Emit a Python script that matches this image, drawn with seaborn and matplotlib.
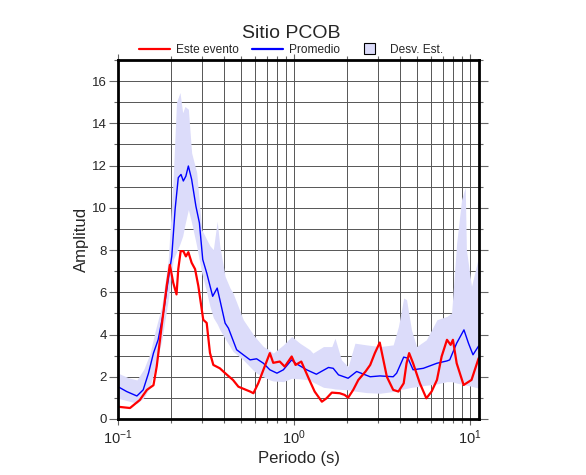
import matplotlib
matplotlib.use("Agg")
import matplotlib.pyplot as plt
import matplotlib.ticker as mticker
from matplotlib.lines import Line2D
from matplotlib.patches import Patch, Rectangle
from matplotlib.legend_handler import HandlerPatch
import numpy as np
import pandas as pd
import seaborn as sns

TITLE = "Sitio PCOB"
LABELS = ["Este evento", "Promedio", "Desv. Est."]

# Este evento (red)
red_period = [0.1, 0.117, 0.133, 0.146, 0.159, 0.166, 0.177, 0.189, 0.197, 0.206,
              0.215, 0.22, 0.227, 0.235, 0.243, 0.251, 0.262, 0.274, 0.286, 0.305,
              0.319, 0.333, 0.348, 0.379, 0.415, 0.45, 0.483, 0.563, 0.588, 0.627,
              0.67, 0.729, 0.762, 0.83, 0.886, 0.97, 1.02, 1.1, 1.23, 1.31,
              1.44, 1.53, 1.64, 1.82, 1.94, 2.03, 2.17, 2.32, 2.55, 2.71,
              2.88, 3.07, 3.16, 3.37, 3.66, 3.92, 4.2, 4.36, 4.51, 4.75,
              5.19, 5.65, 6.05, 6.49, 6.9, 7.4, 7.76, 8.0, 8.4, 9.2,
              10.2, 11.2]
red_amp = [0.58, 0.52, 0.9, 1.38, 1.6, 2.5, 4.4, 6.3, 7.3, 6.45,
           5.9, 7.1, 7.95, 7.95, 7.7, 7.9, 7.4, 7.1, 6.3, 4.7,
           4.55, 3.13, 2.56, 2.4, 2.1, 1.85, 1.53, 1.3, 1.22, 1.7,
           2.33, 3.12, 2.66, 2.72, 2.48, 2.96, 2.56, 2.72, 1.8, 1.3,
           0.82, 0.98, 1.25, 1.22, 1.14, 1.01, 1.38, 1.85, 2.25, 2.56,
           3.12, 3.62, 3.12, 2.0, 1.38, 1.3, 1.69, 2.64, 3.12, 2.64,
           1.69, 0.98, 1.3, 1.85, 2.96, 3.75, 3.51, 3.75, 2.64, 1.61,
           1.85, 2.88]

# Promedio (blue)
blue_period = [0.1, 0.112, 0.128, 0.139, 0.149, 0.159, 0.169, 0.181, 0.193, 0.202,
               0.211, 0.22, 0.228, 0.235, 0.243, 0.251, 0.262, 0.277, 0.29, 0.303,
               0.319, 0.345, 0.366, 0.379, 0.406, 0.424, 0.472, 0.515, 0.563, 0.613,
               0.67, 0.729, 0.8, 0.87, 0.97, 1.02, 1.18, 1.34, 1.57, 1.67,
               1.79, 2.03, 2.27, 2.71, 3.08, 3.66, 3.83, 4.2, 4.44, 4.75,
               5.43, 6.49, 7.4, 7.67, 8.4, 9.24, 9.8, 10.4, 11.2]
blue_amp = [1.53, 1.3, 1.09, 1.38, 2.17, 3.12, 3.75, 5.02, 6.6, 7.7,
            9.92, 11.43, 11.58, 11.27, 11.5, 11.98, 11.35, 10.08, 9.29, 7.55,
            6.92, 5.81, 6.2, 5.65, 4.54, 4.3, 3.28, 3.04, 2.8, 2.85,
            2.64, 2.33, 2.17, 2.33, 2.8, 2.64, 2.33, 2.12, 2.44, 2.4,
            2.09, 1.93, 2.25, 2.0, 2.04, 2.0, 2.17, 2.93, 2.88, 2.33,
            2.4, 2.64, 2.75, 2.8, 3.59, 4.22, 3.59, 3.04, 3.46]

# Desv. Est. band
band_period = [0.1, 0.115, 0.128, 0.14, 0.152, 0.163, 0.177, 0.193, 0.206, 0.215,
               0.225, 0.233, 0.24, 0.251, 0.262, 0.28, 0.299, 0.319, 0.333, 0.348,
               0.366, 0.379, 0.406, 0.433, 0.45, 0.515, 0.588, 0.613, 0.67, 0.729,
               0.762, 0.87, 0.97, 1.08, 1.23, 1.28, 1.47, 1.64, 1.71, 1.86,
               2.03, 2.22, 2.58, 3.08, 3.66, 3.92, 4.2, 4.36, 4.65, 4.97,
               5.65, 6.49, 7.4, 7.86, 8.4, 8.96, 9.4, 9.54, 10.2, 11.2]
band_upper = [2.17, 1.95, 1.85, 2.35, 3.1, 4.2, 5.33, 7.55, 11.5, 15.0,
              15.46, 14.5, 14.8, 14.67, 12.6, 11.67, 8.97, 8.5, 8.2, 8.02,
              9.37, 8.18, 6.75, 6.2, 5.97, 4.7, 3.99, 3.8, 3.43, 3.25,
              3.12, 3.51, 3.91, 3.59, 3.28, 3.12, 3.43, 3.43, 3.83, 2.8,
              2.48, 3.59, 3.51, 3.43, 3.51, 4.38, 5.73, 5.65, 4.22, 3.43,
              3.75, 4.7, 4.86, 5.02, 8.34, 10.4, 10.97, 8.02, 6.28, 7.7]
band_lower = [0.98, 0.85, 0.74, 1.0, 1.53, 2.5, 3.7, 5.65, 7.55, 7.9,
              8.3, 8.66, 9.2, 9.92, 9.29, 8.18, 6.92, 6.0, 5.33, 4.8,
              4.5, 4.23, 3.8, 3.43, 3.2, 2.8, 2.3, 2.17, 2.0, 1.85,
              1.8, 1.77, 1.93, 1.9, 1.85, 1.75, 1.5, 1.45, 1.42, 1.4,
              1.38, 1.32, 1.25, 1.22, 1.3, 1.38, 1.42, 1.45, 1.5, 1.53,
              1.6, 1.66, 1.77, 1.77, 1.7, 1.65, 1.61, 1.6, 1.55, 1.46]

RED = "#ff0000"
BLUE = "#0000ff"
BAND = "#dcdcfa"


class SquareHandler(HandlerPatch):
    # small square box instead of the default wide rectangle
    def create_artists(self, legend, orig_handle, xdescent, ydescent,
                       width, height, fontsize, trans):
        s = height * 1.25
        p = Rectangle((-xdescent + width * 0.35, -ydescent + (height - s) / 2), s, s,
                      facecolor=orig_handle.get_facecolor(),
                      edgecolor="black", lw=0.8)
        p.set_transform(trans)
        return [p]


sns.set_theme(style="white")
plt.rcParams["font.family"] = ["Liberation Sans", "DejaVu Sans"]

df_red = pd.DataFrame({"periodo": red_period, "amp": red_amp})
df_blue = pd.DataFrame({"periodo": blue_period, "amp": blue_amp})

fig = plt.figure(figsize=(5.86, 4.75), dpi=100)
ax = fig.add_axes([0.2014, 0.1179, 0.6160, 0.7558])

ax.fill_between(band_period, band_lower, band_upper, color=BAND, lw=0, zorder=1)
sns.lineplot(data=df_blue, x="periodo", y="amp", ax=ax, color=BLUE, lw=1.0,
             sort=False, zorder=3)
sns.lineplot(data=df_red, x="periodo", y="amp", ax=ax, color=RED, lw=1.6,
             sort=False, zorder=4)

ax.set_xscale("log")
ax.set_xlim(0.1, 11.25)
ax.set_ylim(0, 17)
ax.yaxis.set_major_locator(mticker.MultipleLocator(2))
ax.yaxis.set_minor_locator(mticker.MultipleLocator(1))
ax.xaxis.set_minor_locator(mticker.LogLocator(base=10, subs=np.arange(2, 10)))
ax.xaxis.set_minor_formatter(mticker.NullFormatter())

ax.grid(which="both", color="#555555", lw=0.7, zorder=2)
for s in ax.spines.values():
    s.set_linewidth(2)
    s.set_color("black")
    s.set_zorder(5)

ax.tick_params(which="both", direction="out", top=True, right=True,
               bottom=True, left=True, color="#666666", width=0.8)
ax.tick_params(axis="y", which="major", length=6.5, pad=1.5, labelsize=9.5)
ax.tick_params(axis="x", which="major", length=4, pad=3, labelsize=10.5)
ax.tick_params(which="minor", length=3)

ax.set_xlabel("Periodo (s)", fontsize=12, labelpad=3)
ax.set_ylabel("Amplitud", fontsize=12, labelpad=2)

fig.text(0.497, 0.930, TITLE, ha="center", va="center", fontsize=14)

handles = [Line2D([], [], color=RED, lw=1.6),
           Line2D([], [], color=BLUE, lw=1.6),
           Patch(facecolor=BAND)]
fig.legend(handles, LABELS, loc="center", bbox_to_anchor=(0.497, 0.895), ncol=3,
           frameon=False, fontsize=8.6, handlelength=2.6, columnspacing=1.1,
           handletextpad=0.5, borderaxespad=0,
           handler_map={Patch: SquareHandler()})

fig.savefig("out.png", dpi=100)
